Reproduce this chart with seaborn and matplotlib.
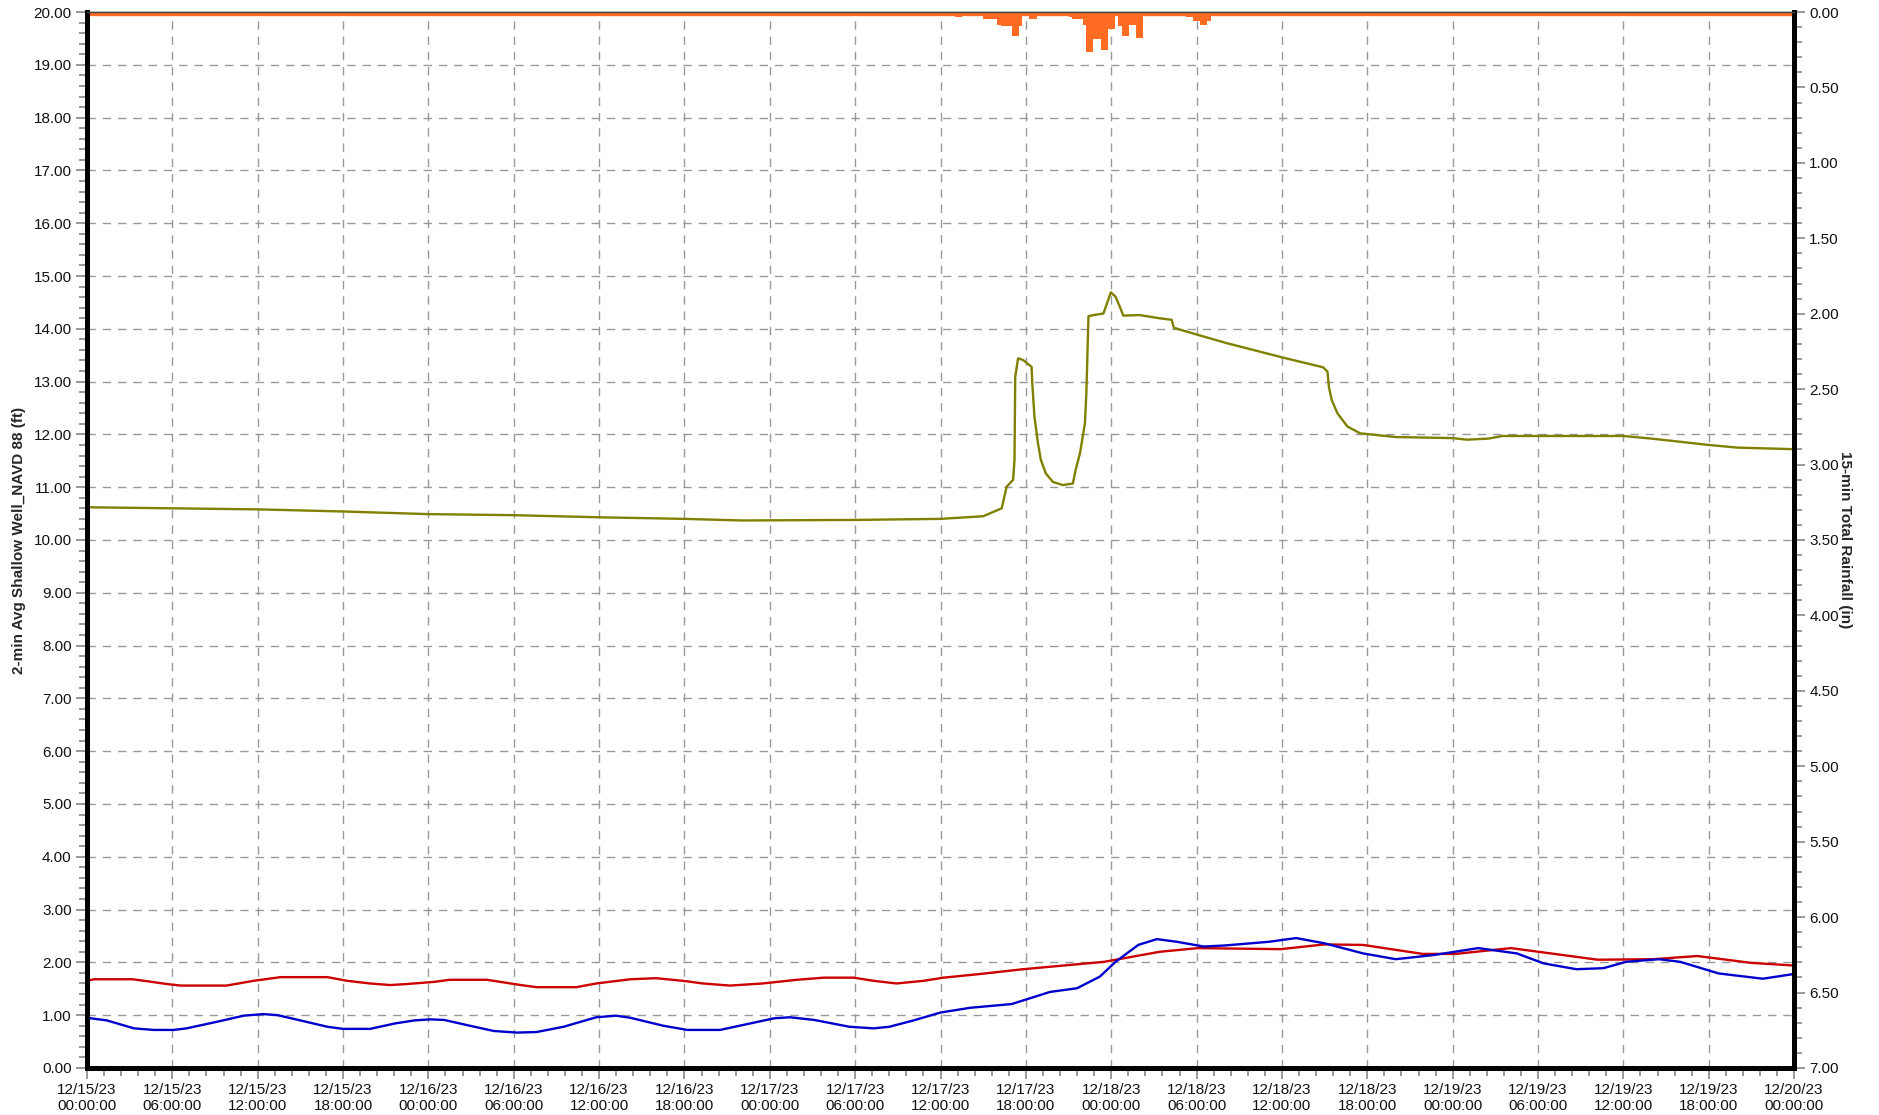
import seaborn as sns
import matplotlib.pyplot as plt
import matplotlib.dates as mdates
from matplotlib.ticker import MultipleLocator, AutoMinorLocator, FormatStrFormatter
import pandas as pd

# start of the record, all times below are hours after this
t0 = pd.Timestamp('2023-12-15 00:00:00')

# shallow well level (ft)
well_h = [0, 6, 12, 18, 24, 30, 36, 42, 46, 54, 60, 63, 64.3, 64.65, 65.1, 65.2, 65.25, 65.45,
          65.8, 66.4, 66.45, 66.6, 66.85, 67.05, 67.4, 67.9, 68.6, 69.3, 69.5, 69.8, 70.15, 70.25,
          70.4, 70.75, 71.45, 71.7, 71.97, 72.3, 72.6, 72.85, 74.0, 75.4, 76.25, 76.4, 77.9, 80.1,
          84.0, 86.9, 87.2, 87.3, 87.5, 87.9, 88.6, 89.5, 92, 96, 97, 98.5, 99.5, 104, 108, 110,
          114, 116, 120]
well_ft = [10.62, 10.6, 10.58, 10.54, 10.49, 10.47, 10.43, 10.4, 10.37, 10.38, 10.4, 10.45, 10.6,
           11.01, 11.14, 11.52, 13.09, 13.44, 13.41, 13.28, 12.97, 12.34, 11.83, 11.52, 11.26,
           11.1, 11.04, 11.07, 11.33, 11.64, 12.21, 12.78, 14.24, 14.26, 14.29, 14.48, 14.69,
           14.61, 14.42, 14.25, 14.26, 14.2, 14.17, 14.02, 13.9, 13.73, 13.46, 13.27, 13.19,
           12.9, 12.65, 12.4, 12.15, 12.02, 11.95, 11.93, 11.9, 11.92, 11.97, 11.97, 11.97,
           11.92, 11.8, 11.75, 11.72]

# red series (ft)
red_h = [0, 0.5, 3.2, 4.3, 5.6, 6.6, 9.8, 11.7, 13.6, 16.9, 18.3, 19.9, 21.3, 22.5, 24.4, 25.5,
         28.1, 29.3, 30.5, 31.6, 34.4, 35.8, 38.2, 40.0, 41.9, 43.3, 45.2, 47.5, 49.9, 51.8, 53.9,
         55.3, 56.9, 58.8, 60.2, 62.8, 65.8, 71.5, 75.4, 78.1, 83.9, 87.0, 89.7, 93.9, 96.2,
         100.1, 106.2, 110.1, 113.2, 117.0, 120]
red_ft = [1.65, 1.68, 1.68, 1.64, 1.59, 1.56, 1.56, 1.65, 1.72, 1.72, 1.65, 1.6, 1.57, 1.59,
          1.63, 1.67, 1.67, 1.62, 1.57, 1.53, 1.53, 1.6, 1.68, 1.7, 1.65, 1.6, 1.56, 1.6, 1.67,
          1.71, 1.71, 1.65, 1.6, 1.65, 1.71, 1.78, 1.87, 2.01, 2.2, 2.27, 2.25, 2.34, 2.33,
          2.16, 2.16, 2.27, 2.05, 2.06, 2.12, 1.99, 1.94]

# blue series (ft)
blue_h = [0, 1.4, 3.3, 4.7, 6.1, 7.0, 9.4, 11.0, 12.4, 13.4, 15.0, 16.9, 18.0, 19.9, 21.6, 23.0,
          24.1, 25.1, 26.9, 28.6, 30.2, 31.6, 33.5, 35.8, 37.2, 38.2, 40.5, 42.2, 44.5, 46.4,
          48.3, 49.4, 51.1, 53.6, 55.3, 56.4, 58.1, 60.0, 62.1, 65.0, 67.7, 69.6, 71.2, 72.3,
          73.9, 75.2, 76.6, 78.5, 80.0, 83.1, 85.0, 87.0, 89.7, 92.0, 94.7, 97.8, 100.5, 102.4,
          104.7, 106.6, 108.2, 110.5, 112.0, 114.7, 117.8, 120]
blue_ft = [0.95, 0.9, 0.75, 0.72, 0.72, 0.75, 0.89, 0.99, 1.02, 1.0, 0.9, 0.78, 0.74, 0.74,
           0.84, 0.9, 0.92, 0.91, 0.8, 0.7, 0.67, 0.68, 0.78, 0.96, 0.99, 0.95, 0.8, 0.72, 0.72,
           0.83, 0.94, 0.96, 0.91, 0.78, 0.75, 0.78, 0.9, 1.05, 1.14, 1.21, 1.44, 1.51, 1.73,
           2.01, 2.33, 2.44, 2.39, 2.3, 2.32, 2.39, 2.46, 2.36, 2.17, 2.06, 2.14, 2.27, 2.17,
           1.98, 1.87, 1.89, 2.01, 2.06, 2.01, 1.79, 1.69, 1.78]

# 15-min rainfall totals (in), first bin starts 59.5 h after t0
rain_start_h = 59.5
rain_in = [0.01, 0.01, 0.02, 0.02, 0.02, 0.02, 0.035, 0.035, 0.01, 0.01,
           0.01, 0.02, 0.02, 0.02, 0.045, 0.045, 0.045, 0.045, 0.085, 0.095,
           0.095, 0.095, 0.16, 0.16, 0.09, 0.02, 0.02, 0.045, 0.045, 0.01,
           0.02, 0.02, 0.01, 0.01, 0.02, 0.02, 0.02, 0.01, 0.03, 0.045,
           0.045, 0.045, 0.085, 0.265, 0.265, 0.18, 0.18, 0.25, 0.25, 0.11,
           0.11, 0.02, 0.09, 0.16, 0.16, 0.085, 0.085, 0.17, 0.17, 0.01,
           0.01, 0.01, 0.01, 0.01, 0.01, 0.01, 0.01, 0.01, 0.01, 0.01,
           0.02, 0.03, 0.03, 0.06, 0.06, 0.085, 0.085, 0.06, 0.02, 0.02,
           0.01]


def to_time(hours):
    return t0 + pd.to_timedelta(hours, unit='h')


sns.set_style('white')
plt.rcParams['font.family'] = ['Liberation Sans', 'DejaVu Sans']

fig = plt.figure(figsize=(18.79, 11.15), dpi=100)
ax = fig.add_axes([0.0463, 0.0422, 0.9085, 0.947])

sns.lineplot(x=to_time(well_h), y=well_ft, ax=ax, color='#808000', lw=1.7, estimator=None)
sns.lineplot(x=to_time(red_h), y=red_ft, ax=ax, color='#cc0000', lw=1.7, estimator=None)
sns.lineplot(x=to_time(blue_h), y=blue_ft, ax=ax, color='#0000cc', lw=1.7, estimator=None)

ax.set_xlim(t0, to_time(120))
ax.set_ylim(0, 20)
ax.yaxis.set_major_locator(MultipleLocator(1))
ax.yaxis.set_minor_locator(MultipleLocator(0.2))
ax.yaxis.set_major_formatter(FormatStrFormatter('%.2f'))
ax.xaxis.set_major_locator(mdates.HourLocator(byhour=[0, 6, 12, 18]))
ax.xaxis.set_major_formatter(mdates.DateFormatter('%m/%d/%y\n%H:%M:%S'))
ax.xaxis.set_minor_locator(AutoMinorLocator(5))
ax.grid(True, which='major', ls=(0, (6, 5)), color='#999999', lw=1)
ax.set_ylabel('2-min Avg Shallow Well_NAVD 88 (ft)', fontsize=11, fontweight='bold')
ax.yaxis.set_label_coords(-0.036, 0.5)
ax.set_xlabel('')

# rainfall on an inverted right axis
ax2 = ax.twinx()
rain_times = to_time([rain_start_h + 0.25 * i for i in range(len(rain_in))])
ax2.bar(rain_times, rain_in, width=0.25 / 24, align='edge', color='#ff6b22', lw=0)
ax2.axhline(0, color='#ff6b22', lw=6)
ax2.set_ylim(7, 0)
ax2.yaxis.set_major_locator(MultipleLocator(0.5))
ax2.yaxis.set_minor_locator(MultipleLocator(0.1))
ax2.yaxis.set_major_formatter(FormatStrFormatter('%.2f'))
ax2.set_ylabel('15-min Total Rainfall (in)', fontsize=11, fontweight='bold', rotation=270)
ax2.yaxis.set_label_coords(1.034, 0.5)
ax2.grid(False)

for a in (ax, ax2):
    a.tick_params(which='major', direction='out', length=8, width=1.2, color='#888888',
                  labelsize=11, labelcolor='#111111', pad=3)
    a.tick_params(which='minor', direction='out', length=6, width=1.2, color='#888888')
    for side in ('left', 'right', 'bottom'):
        a.spines[side].set_color('black')
        a.spines[side].set_linewidth(3.5)
    a.spines['top'].set_color('#444444')
    a.spines['top'].set_linewidth(1.0)
ax.tick_params(axis='x', which='major', labelsize=11)
ax.tick_params(axis='both', which='both', left=True, bottom=True)
ax2.tick_params(axis='y', which='both', right=True)

fig.savefig('out.png', dpi=100)
plt.close()
